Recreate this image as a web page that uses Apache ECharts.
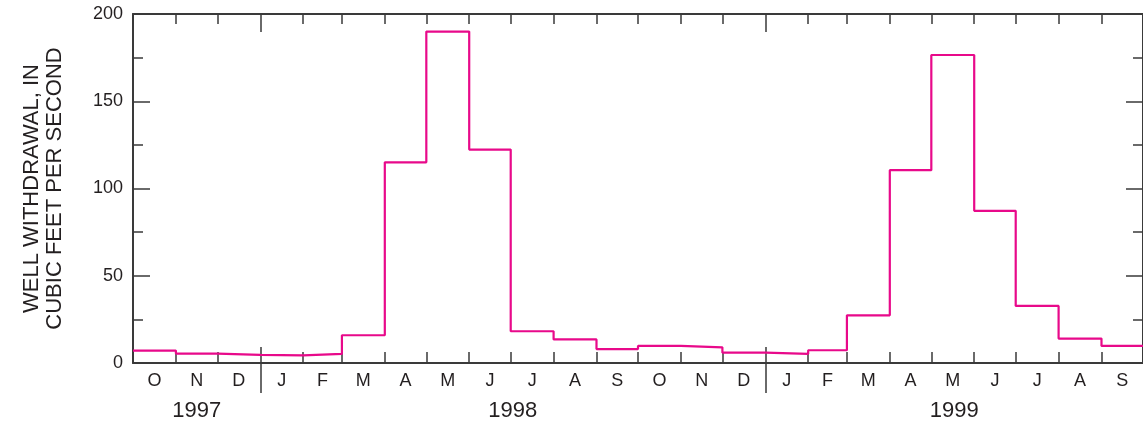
<!DOCTYPE html>
<html>
<head>
<meta charset="utf-8">
<script src="https://cdn.jsdelivr.net/npm/echarts@6/dist/echarts.min.js"></script>
<style>
html,body{margin:0;padding:0;background:#fff;}
#chart{width:1143px;height:423px;}
</style>
</head>
<body>
<div id="chart"></div>
<script>
// Months from October 1997 through September 1999
const monthLabels = ['O','N','D','J','F','M','A','M','J','J','A','S','O','N','D','J','F','M','A','M','J','J','A','S'];
// Monthly well withdrawal, cubic feet per second
const withdrawal = [7.1, 5.4, 4.6, 4.4, 5.2, 15.9, 115.0, 189.9, 122.3, 18.2, 13.5, 8.0, 9.8, 9.0, 5.9, 5.2, 7.3, 27.3, 110.5, 176.5, 87.2, 32.7, 14.0, 9.8];
const yearLabels = ['1997', '1998', '1999'];
const yTicks = [0, 50, 100, 150, 200];

const FONT = '"Liberation Sans Narrow", "Liberation Sans", Arial, sans-serif';
const TEXT = '#231f20';
const AX = '#3a3a3a';

const DAY = 86400000;
const t0 = Date.UTC(1997, 9, 1);
const monthStart = [];
for (let i = 0; i <= monthLabels.length; i++) {
  monthStart.push((Date.UTC(1997, 9 + i, 1) - t0) / DAY);
}
const total = monthStart[monthStart.length - 1];
const monthCenter = monthLabels.map((_, i) => (monthStart[i] + monthStart[i + 1]) / 2);
const yearBounds = [monthStart[3], monthStart[15]];
const yearCenters = [(0 + monthStart[3]) / 2, (monthStart[3] + monthStart[15]) / 2, (monthStart[15] + total) / 2];

const seriesData = withdrawal.map((v, i) => [monthStart[i], v]);
seriesData.push([total, withdrawal[withdrawal.length - 1]]);

function baseX(extra) {
  const o = Object.assign({
    type: 'value', min: 0, max: total, gridIndex: 0,
    splitLine: { show: false },
    axisTick: { show: false },
    axisLabel: { show: false }
  }, extra);
  o.axisLine = Object.assign({ show: false, onZero: false }, extra.axisLine || {});
  return o;
}

function baseY(extra) {
  const o = Object.assign({
    type: 'value', min: 0, max: 200, gridIndex: 0,
    splitLine: { show: false },
    axisLabel: { show: false }
  }, extra);
  o.axisLine = Object.assign({ show: false, onZero: false }, extra.axisLine || {});
  return o;
}

const option = {
  animation: false,
  backgroundColor: '#fff',
  grid: { left: 133, right: -2, top: 14, bottom: 60, containLabel: false },
  xAxis: [
    baseX({
      position: 'bottom',
      axisLine: { show: true, lineStyle: { color: AX, width: 2 } },
      axisTick: { show: true, inside: true, length: 11, customValues: monthStart, lineStyle: { color: AX, width: 1.5 } },
      axisLabel: {
        show: true, customValues: monthCenter, margin: 9,
        fontFamily: FONT, fontSize: 18, color: TEXT,
        formatter: function (v) {
          const i = monthCenter.findIndex(c => Math.abs(c - v) < 0.01);
          return i >= 0 ? monthLabels[i] : '';
        }
      }
    }),
    baseX({
      position: 'bottom',
      axisTick: { show: true, inside: true, length: 16, customValues: yearBounds, lineStyle: { color: AX, width: 1.5 } }
    }),
    baseX({
      position: 'bottom',
      axisTick: { show: true, inside: false, length: 30, customValues: yearBounds, lineStyle: { color: AX, width: 1.5 } },
      axisLabel: {
        show: true, customValues: yearCenters, margin: 37,
        fontFamily: FONT, fontSize: 22, color: TEXT,
        formatter: function (v) {
          const i = yearCenters.findIndex(c => Math.abs(c - v) < 0.01);
          return i >= 0 ? yearLabels[i] : '';
        }
      }
    }),
    baseX({
      position: 'top',
      axisLine: { show: true, lineStyle: { color: AX, width: 2 } },
      axisTick: { show: true, inside: true, length: 10, customValues: monthStart, lineStyle: { color: AX, width: 1.5 } }
    }),
    baseX({
      position: 'top',
      axisTick: { show: true, inside: true, length: 18, customValues: yearBounds, lineStyle: { color: AX, width: 1.5 } }
    })
  ],
  yAxis: [
    baseY({
      position: 'left', interval: 50,
      name: 'WELL WITHDRAWAL, IN\nCUBIC FEET PER SECOND',
      nameLocation: 'middle', nameRotate: 90, nameGap: 67,
      nameTextStyle: { fontFamily: FONT, fontSize: 22, color: TEXT, lineHeight: 23 },
      axisLine: { show: true, lineStyle: { color: AX, width: 2 } },
      axisTick: { show: true, inside: true, length: 17, lineStyle: { color: AX, width: 1.5 } },
      axisLabel: {
        show: true, margin: 10, fontFamily: FONT, fontSize: 18, color: TEXT,
        customValues: yTicks
      }
    }),
    baseY({
      position: 'left', interval: 25,
      axisTick: { show: true, inside: true, length: 10, lineStyle: { color: AX, width: 1.5 } }
    }),
    baseY({
      position: 'right', interval: 50,
      axisLine: { show: true, lineStyle: { color: AX, width: 2 } },
      axisTick: { show: true, inside: true, length: 17, lineStyle: { color: AX, width: 1.5 } }
    }),
    baseY({
      position: 'right', interval: 25,
      axisTick: { show: true, inside: true, length: 10, lineStyle: { color: AX, width: 1.5 } }
    })
  ],
  series: [
    {
      type: 'line', xAxisIndex: 0, yAxisIndex: 0,
      step: 'end', symbol: 'none',
      data: seriesData,
      lineStyle: { color: '#E8098A', width: 2.2 },
      z: 5
    }
  ]
};

const chart = echarts.init(document.getElementById('chart'), null, { renderer: 'canvas' });
chart.setOption(option);
</script>
</body>
</html>
